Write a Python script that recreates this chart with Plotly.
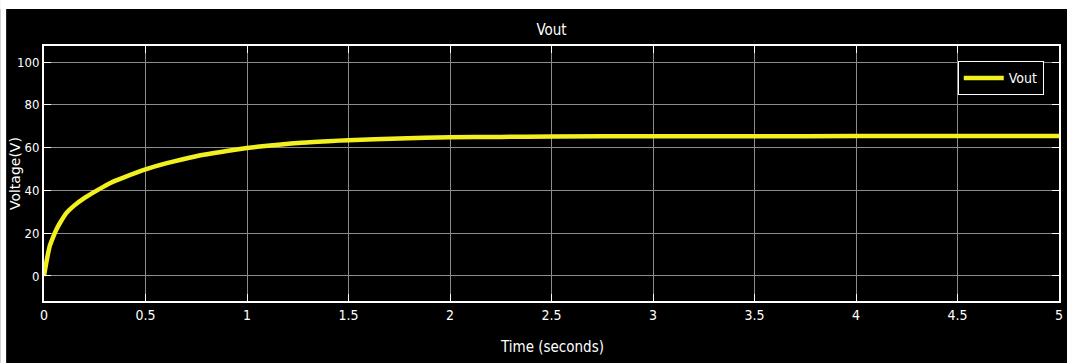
import plotly.graph_objects as go

# Data
time_s = [0.0, 0.01, 0.02, 0.03, 0.045, 0.06, 0.08, 0.11, 0.15, 0.2, 0.27, 0.33, 0.4,
          0.5, 0.6, 0.75, 0.9, 1.0, 1.1, 1.25, 1.4, 1.5, 1.75, 2.0, 2.25, 2.5, 3.0,
          3.5, 4.0, 4.5, 5.0]
vout = [0.0, 5.5, 10.5, 14.5, 18.2, 21.5, 25.0, 29.4, 33.0, 36.5, 40.5, 43.6, 46.3,
        49.8, 52.6, 56.0, 58.4, 59.8, 60.9, 62.2, 63.0, 63.5, 64.3, 64.8, 65.0, 65.2, 65.3,
        65.3, 65.4, 65.4, 65.4]
x_ticks = [0, 0.5, 1, 1.5, 2, 2.5, 3, 3.5, 4, 4.5, 5]
x_tick_labels = ["0", "0.5", "1", "1.5", "2", "2.5", "3", "3.5", "4", "4.5", "5"]
y_ticks = [0, 20, 40, 60, 80, 100]

W, H = 1067, 363
ML, MR, MT, MB = 44, 4, 46, 62
pw = W - ML - MR
ph = H - MT - MB

narrow = "DejaVu Sans Condensed, Liberation Sans Narrow, Liberation Sans, sans-serif"

fig = go.Figure()
fig.add_trace(go.Scatter(
    x=time_s, y=vout, mode="lines", name="Vout",
    line=dict(color="#f2f01e", width=4.5, shape="spline", smoothing=0.6),
))

grid = "#8c8c8c"
fig.update_layout(
    autosize=True, height=H,
    margin=dict(l=ML, r=MR, t=MT, b=MB),
    paper_bgcolor="black", plot_bgcolor="black",
    title=dict(text="Vout", x=0.5, xref="paper", xanchor="center",
               y=1 - 30 / H, yanchor="middle",
               font=dict(family=narrow, size=15, color="white")),
    showlegend=True,
    legend=dict(x=0.985, y=0.94, xanchor="right", yanchor="top",
                bgcolor="black", bordercolor="white", borderwidth=1,
                font=dict(family=narrow, size=14, color="white"),
                itemwidth=40, tracegroupgap=0),
    xaxis=dict(range=[0, 5], tickvals=x_ticks, ticktext=x_tick_labels,
               showgrid=True, gridcolor=grid, gridwidth=1,
               zeroline=False, showline=True, linecolor="white", linewidth=2,
               mirror="ticks", ticks="inside", ticklen=7, tickcolor="white",
               tickfont=dict(family=narrow, size=14, color="white")),
    yaxis=dict(range=[-11.7, 107.5], tickvals=y_ticks,
               showgrid=True, gridcolor=grid, gridwidth=1,
               zeroline=False, showline=True, linecolor="white", linewidth=2,
               mirror="ticks", ticks="inside", ticklen=7, tickcolor="white",
               tickfont=dict(family=narrow, size=13, color="white")),
    annotations=[
        dict(text="Time (seconds)", xref="paper", yref="paper",
             x=0.5, y=-(347 - MT - ph) / ph, xanchor="center", yanchor="middle",
             showarrow=False, font=dict(family=narrow, size=15, color="white")),
        dict(text="Voltage(V)", xref="paper", yref="paper",
             x=(15 - ML) / pw, y=1 - (174 - MT) / ph, xanchor="center", yanchor="middle",
             textangle=-90, showarrow=False,
             font=dict(family="DejaVu Sans, sans-serif", size=14, color="white")),
    ],
    shapes=[
        # white page edges around the black figure
        dict(type="rect", xref="paper", yref="paper",
             x0=-ML / pw, x1=(6 - ML) / pw, y0=-MB / ph, y1=1 + MT / ph,
             fillcolor="white", line=dict(width=0), layer="above"),
        dict(type="rect", xref="paper", yref="paper",
             x0=-ML / pw, x1=1 + MR / pw + 0.01, y0=1 + (MT - 9) / ph, y1=1 + MT / ph,
             fillcolor="white", line=dict(width=0), layer="above"),
    ],
)

fig.write_html(
    "out.html",
    config={"displayModeBar": False},
    default_width="100%",
    default_height="%dpx" % H,
    post_script="document.documentElement.style.overflow='hidden';"
                "document.body.style.overflow='hidden';document.body.style.margin='0';",
)
